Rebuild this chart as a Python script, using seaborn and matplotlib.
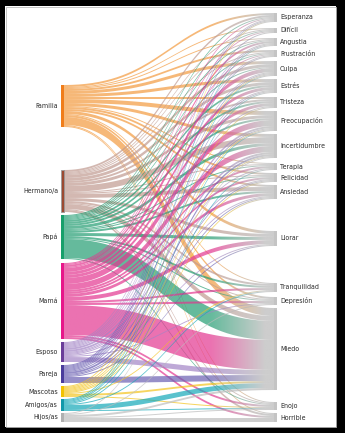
import numpy as np
import matplotlib
matplotlib.use("Agg")
import matplotlib.pyplot as plt
from matplotlib.path import Path
from matplotlib.patches import PathPatch, Rectangle
from matplotlib.colors import to_rgb
from matplotlib import font_manager as fm
import seaborn as sns

# ---------------- data ----------------
sources = ["Familia", "Hermano/a", "Papá", "Mamá", "Esposo", "Pareja",
           "Mascotas", "Amigos/as", "Hijos/as"]
targets = ["Esperanza", "Difícil", "Angustia", "Frustración", "Culpa", "Estrés",
           "Tristeza", "Preocupación", "Incertidumbre", "Terapia", "Felicidad",
           "Ansiedad", "Llorar", "Tranquilidad", "Depresión", "Miedo", "Enojo",
           "Horrible"]

familia  = [2, 1, 1, 2, 3, 3, 2, 4, 3, 1, 2, 2, 3, 1, 2, 8, 1, 1]
hermano  = [2, 1, 1, 1, 3, 3, 2, 3, 6, 1, 1, 4, 3, 2, 1, 5, 1, 2]
papa     = [1, 1, 1, 1, 1, 2, 2, 2, 3, 1, 1, 2, 3, 2, 1, 19, 1, 0]
mama     = [1, 1, 2, 1, 4, 3, 3, 6, 6, 2, 2, 3, 4, 2, 2, 30, 2, 2]
esposo   = [1, 0, 1, 1, 1, 1, 1, 2, 2, 1, 1, 1, 1, 0, 1, 5, 0, 0]
pareja   = [1, 1, 1, 1, 1, 1, 0, 1, 2, 0, 1, 1, 1, 0, 0, 6, 0, 0]
mascotas = [1, 0, 0, 0, 1, 0, 1, 1, 1, 0, 1, 1, 0, 1, 0, 2, 1, 0]
amigos   = [0, 0, 1, 0, 1, 1, 0, 1, 0, 1, 0, 0, 0, 1, 0, 5, 1, 0]
hijos    = [0, 0, 0, 0, 0, 0, 0, 0, 1, 0, 0, 0, 0, 0, 1, 2, 1, 4]

# ---------------- layout / style ----------------
left_gaps = [85, 43, 3, 4, 3, 3, 3, 2, 2]
right_gaps = [13, 6, 5, 4, 4, 3, 4, 3, 3, 5, 3, 3, 32, 37, 5, 3, 12, 3]
link_colors = ["#F39A3E", "#C09A90", "#239D72", "#E3358F", "#A384C6",
               "#6A5FB2", "#F4C41C", "#12A8B8", "#BDBDBD"]
node_colors = ["#F07D1A", "#9C4A32", "#17A06B", "#E7168A", "#6A3D9A",
               "#4A3C9C", "#F2C200", "#1199AA", "#B0B0B0"]
target_grey = "#B8B8B8"
x_left, x_right, bar_w = 61, 274, 3
link_alpha = 0.7

sns.set_theme(style="white")
names = {f.name for f in fm.fontManager.ttflist}
condensed = [f for f in fm.fontManager.ttflist
             if f.name == "DejaVu Sans" and "ondensed" in str(f.stretch) + f.fname]
if "Liberation Sans Narrow" in names:
    plt.rcParams["font.family"] = ["Liberation Sans Narrow", "DejaVu Sans"]
    font_kw = dict(fontsize=5.6)
elif condensed:
    plt.rcParams["font.family"] = ["DejaVu Sans"]
    font_kw = dict(fontsize=5.0, fontstretch="condensed")
else:
    plt.rcParams["font.family"] = ["Liberation Sans", "DejaVu Sans"]
    font_kw = dict(fontsize=4.6)

flows = np.array([familia, hermano, papa, mama, esposo, pareja,
                  mascotas, amigos, hijos], dtype=float)
out_sum = flows.sum(axis=1)
in_sum = flows.sum(axis=0)

left_top = np.cumsum(np.array(left_gaps) + np.concatenate([[0], out_sum[:-1]]))
right_top = np.cumsum(np.array(right_gaps) + np.concatenate([[0], in_sum[:-1]]))

fig = plt.figure(figsize=(3.45, 4.33), dpi=100)
ax = fig.add_axes([0, 0, 1, 1])
ax.set_xlim(0, 345)
ax.set_ylim(433, 0)
ax.axis("off")


def band(x0, x1, ys, yt, w, n=80):
    t = np.linspace(0, 1, n)
    xs = x0 + (x1 - x0) * (1.5 * t * (1 - t) + t ** 3)
    s = 3 * t ** 2 - 2 * t ** 3
    top = ys + (yt - ys) * s
    bot = top + w
    verts = np.concatenate([np.column_stack([xs, top]),
                            np.column_stack([xs[::-1], bot[::-1]])])
    return verts


tgt_start = np.zeros_like(flows)
for j in range(len(targets)):
    off = right_top[j]
    for i in range(len(sources)):
        tgt_start[i, j] = off
        off += flows[i, j]

grey_rgb = np.array(to_rgb(target_grey))
u = np.linspace(0, 1, 160)
mix = np.clip((u - 0.70) / 0.26, 0, 1)

x0 = x_left + bar_w
x1 = x_right
for i in range(len(sources)):
    off = left_top[i]
    src_rgb = np.array(to_rgb(link_colors[i]))
    img = np.zeros((1, len(u), 4))
    img[0, :, :3] = src_rgb[None, :] * (1 - mix[:, None]) + grey_rgb[None, :] * mix[:, None]
    img[0, :, 3] = link_alpha
    for j in range(len(targets)):
        w = flows[i, j]
        if w <= 0:
            continue
        verts = band(x0, x1, off, tgt_start[i, j], w)
        patch = PathPatch(Path(verts), facecolor="none", edgecolor="none")
        ax.add_patch(patch)
        ymin, ymax = verts[:, 1].min(), verts[:, 1].max()
        im = ax.imshow(img, extent=(x0, x1, ymax, ymin), aspect="auto",
                       interpolation="bilinear", zorder=2)
        im.set_clip_path(patch)
        off += w

ax.set_xlim(0, 345)
ax.set_ylim(433, 0)

# nodes
for i, name in enumerate(sources):
    ec = "#9A9A9A" if i == 1 else "none"
    ax.add_patch(Rectangle((x_left, left_top[i]), bar_w, out_sum[i],
                           facecolor=node_colors[i], edgecolor=ec, lw=0.6, zorder=3))
    ax.text(x_left - 3, left_top[i] + out_sum[i] / 2, name, ha="right", va="center",
            color="#2b2b2b", zorder=4, **font_kw)
for j, name in enumerate(targets):
    ax.add_patch(Rectangle((x_right, right_top[j]), bar_w, in_sum[j],
                           facecolor="#C4C4C4", edgecolor="none", zorder=3))
    ax.text(x_right + bar_w + 3, right_top[j] + in_sum[j] / 2, name, ha="left",
            va="center", color="#2b2b2b", zorder=4, **font_kw)

# frame
for (x, y, w, h) in [(0, 0, 5, 433), (0, 0, 345, 6), (336, 0, 9, 433), (0, 427, 345, 6)]:
    ax.add_patch(Rectangle((x, y), w, h, facecolor="black", edgecolor="none", zorder=5))
ax.add_patch(Rectangle((5.5, 6.5), 330, 420, facecolor="none", edgecolor="#BBBBBB",
                       lw=0.6, zorder=5))

fig.savefig("out.png", dpi=100)
